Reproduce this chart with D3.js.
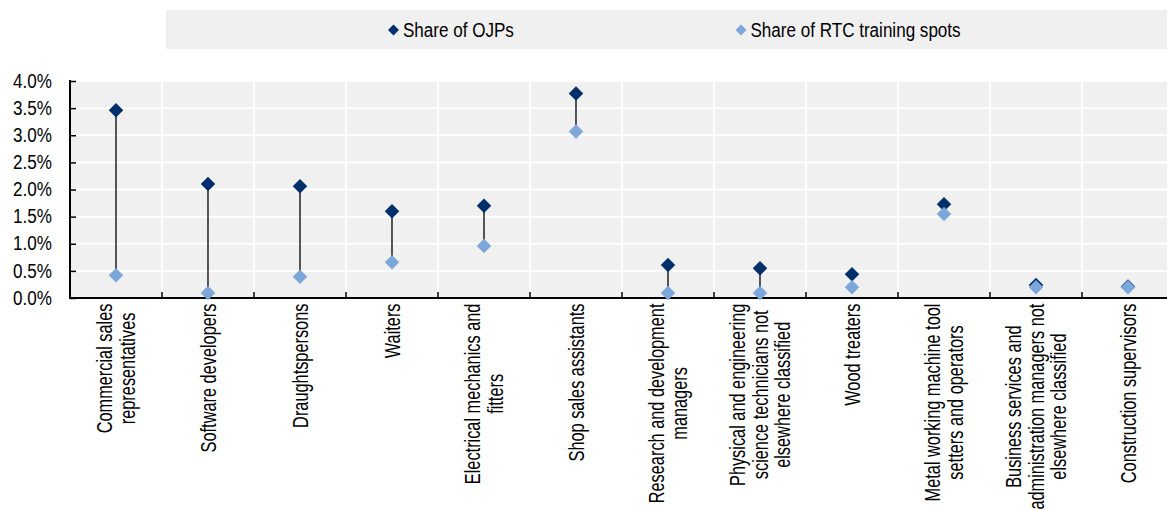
<!DOCTYPE html>
<html>
<head>
<meta charset="utf-8">
<script src="https://cdn.jsdelivr.net/npm/d3@7"></script>
<style>
  html, body { margin: 0; padding: 0; background: #fff; }
  svg { display: block; }
  text { font-family: "Liberation Sans", Arial, sans-serif; fill: #000; }
</style>
</head>
<body>
<svg id="chart" width="1167" height="509"></svg>
<script>
const categories = [
  "Commercial sales|representatives",
  "Software developers",
  "Draughtspersons",
  "Waiters",
  "Electrical mechanics and|fitters",
  "Shop sales assistants",
  "Research and development|managers",
  "Physical and engineering|science technicians not|elsewhere classified",
  "Wood treaters",
  "Metal working machine tool|setters and operators",
  "Business services and|administration managers not|elsewhere classified",
  "Construction supervisors"
];
const shareOJPs = [3.46, 2.10, 2.06, 1.60, 1.70, 3.77, 0.61, 0.55, 0.44, 1.73, 0.24, 0.21];
const shareRTC  = [0.42, 0.09, 0.39, 0.66, 0.96, 3.07, 0.09, 0.09, 0.20, 1.55, 0.20, 0.20];
const yTicks = [0, 0.5, 1.0, 1.5, 2.0, 2.5, 3.0, 3.5, 4.0];
const seriesNames = ["Share of OJPs", "Share of RTC training spots"];
const colors = ["#00306B", "#7DA7D9"];

const H_NARROW = 0.875;   // horizontal text compression
const R_NARROW = 0.76;    // rotated label compression
const svg = d3.select("#chart");
const pLeft = 70, pRight = 1174, pTop = 81, pBottom = 298;

const x = d3.scaleBand().domain(categories).range([pLeft, pRight]).paddingInner(0).paddingOuter(0);
const y = d3.scaleLinear().domain([0, 4]).range([pBottom, pTop]);

// plot background
svg.append("rect").attr("x", pLeft).attr("y", pTop).attr("width", pRight - pLeft).attr("height", pBottom - pTop).attr("fill", "#f0f0f0");

// horizontal grid
svg.append("g").selectAll("line").data(yTicks.filter(d => d > 0)).join("line")
  .attr("x1", pLeft).attr("x2", pRight)
  .attr("y1", d => y(d)).attr("y2", d => y(d))
  .attr("stroke", "#fff").attr("stroke-width", 2);

// vertical grid at band boundaries
const bounds = categories.slice(1).map(c => x(c));
svg.append("g").selectAll("line").data(bounds).join("line")
  .attr("x1", d => d).attr("x2", d => d)
  .attr("y1", pTop).attr("y2", pBottom)
  .attr("stroke", "#fff").attr("stroke-width", 2);

// y axis
const yAxis = d3.axisRight(y).tickValues(yTicks).tickSize(6).tickFormat("");
const gy = svg.append("g").attr("transform", `translate(${pLeft},0)`).call(yAxis);
gy.select(".domain").remove();
gy.selectAll(".tick line").attr("stroke", "#000").attr("stroke-width", 1.5);
svg.append("line").attr("x1", pLeft).attr("x2", pLeft).attr("y1", pTop - 1).attr("y2", pBottom + 1)
  .attr("stroke", "#000").attr("stroke-width", 2);
svg.append("g").selectAll("text").data(yTicks).join("text")
  .attr("text-anchor", "end").attr("font-size", 19.5).attr("dy", "0.34em")
  .attr("transform", d => `translate(52,${y(d)}) scale(${H_NARROW},1)`)
  .text(d => d3.format(".1f")(d) + "%");

// x axis line and inward ticks
svg.append("line").attr("x1", pLeft).attr("x2", pRight).attr("y1", pBottom).attr("y2", pBottom)
  .attr("stroke", "#000").attr("stroke-width", 2);
svg.append("g").selectAll("line").data(bounds).join("line")
  .attr("x1", d => d).attr("x2", d => d)
  .attr("y1", pBottom).attr("y2", pBottom - 6)
  .attr("stroke", "#000").attr("stroke-width", 1.5);

// connector lines
const cx = c => x(c) + x.bandwidth() / 2;
svg.append("g").selectAll("line").data(categories).join("line")
  .attr("x1", c => cx(c)).attr("x2", c => cx(c))
  .attr("y1", (c, i) => y(shareOJPs[i])).attr("y2", (c, i) => y(shareRTC[i]))
  .attr("stroke", "#000").attr("stroke-width", 1.3);

// diamonds
const diamond = d3.symbol().type(d3.symbolSquare).size(105);
function drawSeries(vals, color) {
  svg.append("g").selectAll("path").data(categories).join("path")
    .attr("d", diamond)
    .attr("transform", (c, i) => `translate(${cx(c)},${y(vals[i])}) rotate(45)`)
    .attr("fill", color);
}
drawSeries(shareOJPs, colors[0]);
drawSeries(shareRTC, colors[1]);

// category labels (rotated, multi-line, centered)
const fsLab = 21.5, lineH = 22.5, labTop = 303.5;
categories.forEach(c => {
  const lines = c.split("|");
  const n = lines.length;
  const g = svg.append("g");
  const texts = lines.map(ln => g.append("text").attr("font-size", fsLab).attr("text-anchor", "middle").text(ln));
  const maxW = d3.max(texts, t => t.node().getComputedTextLength()) * R_NARROW;
  texts.forEach((t, i) => {
    const lx = cx(c) + (i - (n - 1) / 2) * lineH + 0.36 * fsLab;
    const ly = labTop + maxW / 2;
    t.attr("transform", `translate(${lx},${ly}) rotate(-90) scale(${R_NARROW},1)`);
  });
});

// legend
svg.append("rect").attr("x", 166).attr("y", 10).attr("width", 1167 - 166).attr("height", 39).attr("fill", "#f0f0f0");
const legX = [393.5, 741];
seriesNames.forEach((s, i) => {
  svg.append("path").attr("d", d3.symbol().type(d3.symbolSquare).size(60))
    .attr("transform", `translate(${legX[i]},30) rotate(45)`).attr("fill", colors[i]);
  svg.append("text").attr("font-size", 19.5).attr("dy", "0.36em")
    .attr("transform", `translate(${legX[i] + 9.5},30) scale(${H_NARROW},1)`)
    .text(s);
});
</script>
</body>
</html>
